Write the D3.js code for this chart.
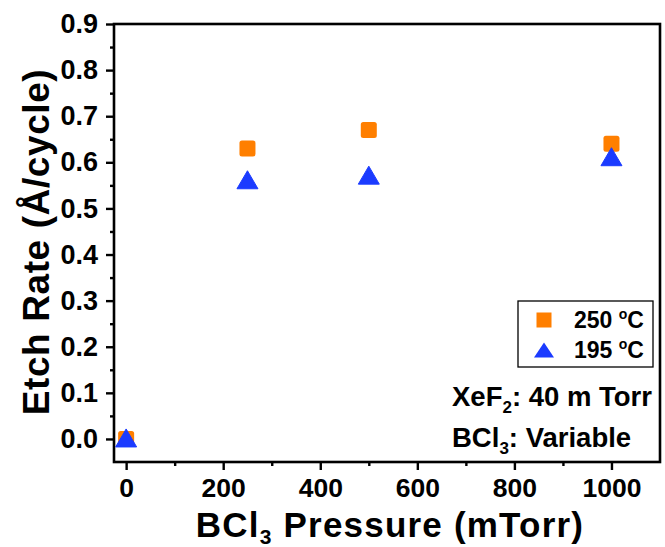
<!DOCTYPE html>
<html>
<head>
<meta charset="utf-8">
<script src="https://cdn.jsdelivr.net/npm/d3@7"></script>
<style>
  html, body { margin: 0; padding: 0; background: #fff; }
  svg text { font-family: "Liberation Sans", Arial, sans-serif; font-weight: bold; fill: #000; }
</style>
</head>
<body>
<svg id="chart" width="665" height="547"></svg>
<script>
// ---- data ----
const pressures = [0, 250, 500, 1000];
const rate250 = [0.0, 0.63, 0.67, 0.64];
const rate195 = [0.0, 0.56, 0.57, 0.61];
const seriesNames = ["250 \u00B0C", "195 \u00B0C"];
const xTicks = [0, 200, 400, 600, 800, 1000];
const yTicks = [0.0, 0.1, 0.2, 0.3, 0.4, 0.5, 0.6, 0.7, 0.8, 0.9];
const xMinor = [100, 300, 500, 700, 900];
const yMinor = [0.05, 0.15, 0.25, 0.35, 0.45, 0.55, 0.65, 0.75, 0.85];

const orange = "#FF7F00";
const blue = "#1B3BFF";

const svg = d3.select("#chart");
const L = 114, R = 660, T = 24, B = 462;

const x = d3.scaleLinear().domain([-25, 1100]).range([L, R]);
const y = d3.scaleLinear().domain([-0.05, 0.9]).range([B, T]);

// x axis
const xAxis = d3.axisBottom(x).tickValues(xTicks).tickSize(8).tickPadding(8).tickFormat(d3.format("d"));
const gx = svg.append("g").attr("transform", `translate(0,${B})`).call(xAxis);
gx.select(".domain").remove();
gx.selectAll("line").attr("stroke", "#000").attr("stroke-width", 2.4);
gx.selectAll("text").attr("font-size", 26.5).attr("font-family", "Liberation Sans, Arial, sans-serif").attr("font-weight", "bold");
const gxm = svg.append("g").attr("transform", `translate(0,${B})`).call(d3.axisBottom(x).tickValues(xMinor).tickSize(4).tickFormat(""));
gxm.select(".domain").remove();
gxm.selectAll("line").attr("stroke", "#000").attr("stroke-width", 2.4);

// y axis
const yAxis = d3.axisLeft(y).tickValues(yTicks).tickSize(8).tickPadding(8).tickFormat(d3.format(".1f"));
const gy = svg.append("g").attr("transform", `translate(${L},0)`).call(yAxis);
gy.select(".domain").remove();
gy.selectAll("line").attr("stroke", "#000").attr("stroke-width", 2.4);
gy.selectAll("text").attr("font-size", 27).attr("font-family", "Liberation Sans, Arial, sans-serif").attr("font-weight", "bold");
const gym = svg.append("g").attr("transform", `translate(${L},0)`).call(d3.axisLeft(y).tickValues(yMinor).tickSize(4).tickFormat(""));
gym.select(".domain").remove();
gym.selectAll("line").attr("stroke", "#000").attr("stroke-width", 2.4);

// frame
svg.append("rect").attr("x", L).attr("y", T).attr("width", R - L).attr("height", B - T)
  .attr("fill", "none").attr("stroke", "#000").attr("stroke-width", 2.6);

// axis titles
const xt = svg.append("text").attr("x", 390).attr("y", 537).attr("text-anchor", "middle")
  .attr("font-size", 35).attr("letter-spacing", 1.2);
xt.append("tspan").text("BCl");
xt.append("tspan").attr("font-size", 21).attr("dy", 7).text("3");
xt.append("tspan").attr("dy", -7).text(" Pressure (mTorr)");

svg.append("text").attr("transform", "translate(49,242) rotate(-90)").attr("text-anchor", "middle")
  .attr("font-size", 37).attr("letter-spacing", 0.6).text("Etch Rate (\u00C5/cycle)");

// markers
const sq = 16;
const triPath = (cx, cy, w, h) => `M${cx},${cy - h / 2}L${cx + w / 2},${cy + h / 2}L${cx - w / 2},${cy + h / 2}Z`;

svg.append("g").selectAll("rect").data(pressures.map((p, i) => [p, rate250[i]])).join("rect")
  .attr("x", d => x(d[0]) - sq / 2).attr("y", d => y(d[1]) - sq / 2)
  .attr("width", sq).attr("height", sq).attr("rx", 2.5).attr("fill", orange);

svg.append("g").selectAll("path").data(pressures.map((p, i) => [p, rate195[i]])).join("path")
  .attr("d", d => triPath(x(d[0]), y(d[1]) - 1, 21, 18)).attr("fill", blue)
  .attr("stroke", blue).attr("stroke-width", 1).attr("stroke-linejoin", "round");

// legend
svg.append("rect").attr("x", 518).attr("y", 301).attr("width", 135).attr("height", 66)
  .attr("fill", "#fff").attr("stroke", "#000").attr("stroke-width", 1.3);
svg.append("rect").attr("x", 544 - 7.5).attr("y", 320 - 7.5).attr("width", 15).attr("height", 15).attr("fill", orange);
svg.append("path").attr("d", triPath(544, 350, 20, 15)).attr("fill", blue);

seriesNames.forEach((s, i) => {
  const t = svg.append("text").attr("x", 574).attr("y", 328 + i * 30).attr("font-size", 23);
  const parts = s.split(" \u00B0");
  t.append("tspan").text(parts[0] + " ");
  t.append("tspan").attr("font-size", 14).attr("dy", -9).text("o");
  t.append("tspan").attr("dy", 9).text(parts[1]);
});

// annotations
const a1 = svg.append("text").attr("x", 452).attr("y", 406).attr("font-size", 27.5);
a1.append("tspan").text("XeF");
a1.append("tspan").attr("font-size", 17).attr("dy", 7).text("2");
a1.append("tspan").attr("dy", -7).text(": 40 m Torr");

const a2 = svg.append("text").attr("x", 452).attr("y", 447).attr("font-size", 27.5);
a2.append("tspan").text("BCl");
a2.append("tspan").attr("font-size", 17).attr("dy", 7).text("3");
a2.append("tspan").attr("dy", -7).text(": Variable");
</script>
</body>
</html>
